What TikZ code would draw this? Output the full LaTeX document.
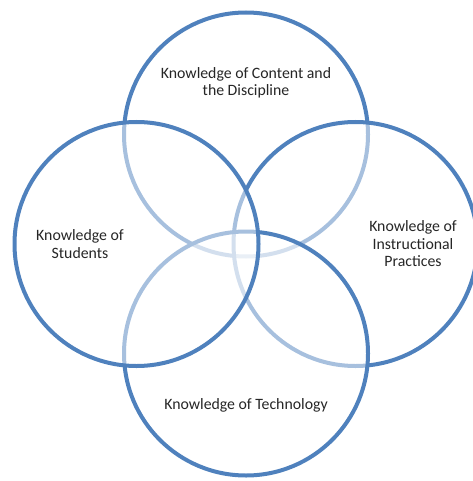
\documentclass[tikz,border=0pt]{standalone}
\usepackage{fontspec}
\setmainfont{Carlito}
\usetikzlibrary{positioning}
\definecolor{vennblue}{RGB}{79,129,189}

\begin{document}
\begin{tikzpicture}[x=1pt, y=-1pt, node distance=109.5pt,
  ring/.style={draw=vennblue, line width=4pt, circle, minimum size=244pt, inner sep=0pt, outer sep=0pt, fill=white, fill opacity=0.5, draw opacity=1},
  label/.style={align=center, text=black!85, font=\fontsize{15.8}{17.5}\selectfont}]
\useasboundingbox (0,0) rectangle (472,481);
\coordinate (mid) at (246,244);
\node (content) [ring, above=of mid, anchor=center] {};
\node (practices) [ring, right=of mid, anchor=center] {};
\node (technology) [ring, below=of mid, anchor=center] {};
\node (students) [ring, left=of mid, anchor=center] {};

\node (contentText) [label] at (246,83) {Knowledge of Content and\\the Discipline};
\node (studentsText) [label] at (80,244) {Knowledge of\\Students};
\node (practicesText) [label] at (413,244) {Knowledge of\\Instructional\\Practices};
\node (technologyText) [label] at (246,405) {Knowledge of Technology};
\end{tikzpicture}
\end{document}
